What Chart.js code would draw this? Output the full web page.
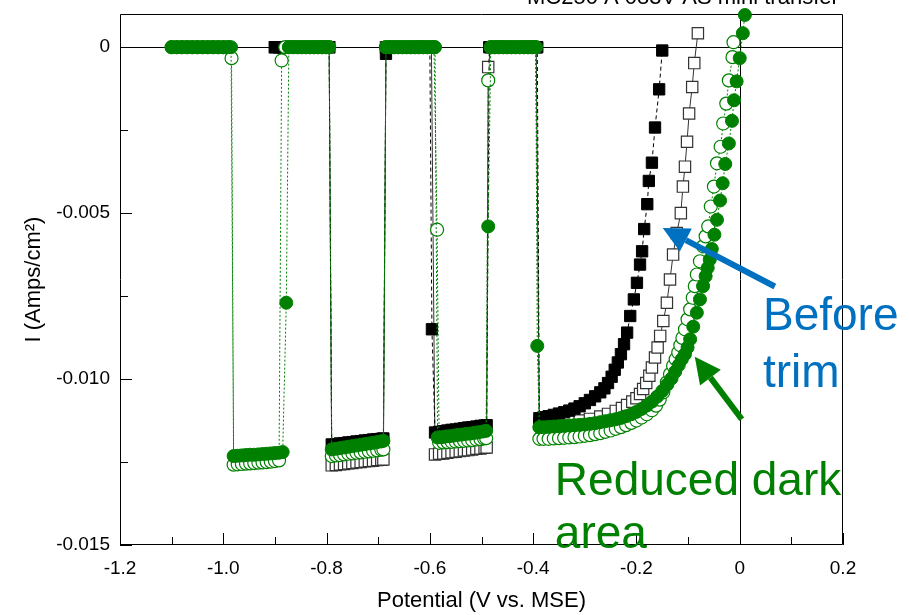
<!DOCTYPE html>
<html>
<head>
<meta charset="utf-8">
<title>Chopped light LSV</title>
<script src="https://cdn.jsdelivr.net/npm/chart.js@4.4.1/dist/chart.umd.min.js"></script>
<style>
  html, body { margin: 0; padding: 0; background: #fff; }
  #wrap { width: 909px; height: 615px; }
</style>
</head>
<body>
<div id="wrap"><canvas id="lsv" width="909" height="615"></canvas></div>
<script>
// ---- data: [potential V vs MSE, current A/cm2] ----
const greenFilled = [
  [-1.100,0],[-1.090,0],[-1.080,0],[-1.070,0],[-1.060,0],[-1.050,0],[-1.040,0],[-1.030,0],[-1.020,0],[-1.010,0],[-1.000,0],[-0.992,0],[-0.985,0],
  [-0.980,-0.01232],[-0.972,-0.01231],[-0.964,-0.01230],[-0.956,-0.01229],[-0.948,-0.01228],[-0.940,-0.01228],[-0.932,-0.01227],[-0.924,-0.01226],[-0.916,-0.01225],[-0.908,-0.01224],[-0.900,-0.01223],[-0.892,-0.01222],[-0.885,-0.01220],
  [-0.878,-0.0077],
  [-0.873,0],[-0.865,0],[-0.857,0],[-0.849,0],[-0.841,0],[-0.833,0],[-0.825,0],[-0.817,0],[-0.809,0],[-0.801,0],[-0.795,0],
  [-0.790,-0.01212],[-0.782,-0.01210],[-0.774,-0.01208],[-0.766,-0.01206],[-0.758,-0.01204],[-0.750,-0.01202],[-0.742,-0.01200],[-0.734,-0.01198],[-0.726,-0.01196],[-0.718,-0.01194],[-0.710,-0.01192],[-0.702,-0.01190],[-0.694,-0.01188],[-0.690,-0.01186],
  [-0.685,0],[-0.677,0],[-0.669,0],[-0.661,0],[-0.653,0],[-0.645,0],[-0.637,0],[-0.629,0],[-0.621,0],[-0.613,0],[-0.605,0],[-0.597,0],[-0.590,0],
  [-0.585,-0.01176],[-0.577,-0.01175],[-0.569,-0.01173],[-0.561,-0.01172],[-0.553,-0.01170],[-0.545,-0.01168],[-0.537,-0.01167],[-0.529,-0.01165],[-0.521,-0.01164],[-0.513,-0.01162],[-0.505,-0.01160],[-0.497,-0.01158],[-0.491,-0.01156],
  [-0.487,-0.0054],
  [-0.482,0],[-0.474,0],[-0.466,0],[-0.458,0],[-0.450,0],[-0.442,0],[-0.434,0],[-0.426,0],[-0.418,0],[-0.410,0],[-0.402,0],[-0.395,0],
  [-0.392,-0.0090],
  [-0.388,-0.01145],[-0.380,-0.01145],[-0.370,-0.01144],[-0.360,-0.01143],[-0.350,-0.01142],[-0.340,-0.01141],[-0.330,-0.01140],[-0.320,-0.01139],[-0.310,-0.01138],[-0.300,-0.01137],
  [-0.290,-0.01135],[-0.280,-0.01133],[-0.270,-0.01130],[-0.260,-0.01127],[-0.250,-0.01124],[-0.240,-0.01121],[-0.230,-0.01117],[-0.220,-0.01112],[-0.210,-0.01106],[-0.200,-0.01099],
  [-0.190,-0.01090],[-0.180,-0.01080],[-0.170,-0.01068],[-0.160,-0.01053],[-0.150,-0.01036],[-0.140,-0.01016],[-0.132,-0.00998],[-0.125,-0.00978],[-0.118,-0.00958],[-0.112,-0.00940],
  [-0.106,-0.00925],[-0.101,-0.00905],[-0.096,-0.00880],[-0.090,-0.00842],[-0.083,-0.00800],[-0.077,-0.00760],[-0.071,-0.00720],[-0.066,-0.00690],[-0.062,-0.00665],[-0.058,-0.00640],
  [-0.054,-0.00608],[-0.049,-0.00565],[-0.044,-0.00520],[-0.038,-0.00462],[-0.033,-0.00410],[-0.028,-0.00352],[-0.021,-0.00290],[-0.015,-0.00222],[-0.011,-0.00160],[-0.006,-0.00103],
  [0.000,-0.00033],[0.006,0.00042],[0.010,0.00097]
];

const greenOpen = [
  [-1.100,0],[-1.090,0],[-1.080,0],[-1.070,0],[-1.060,0],[-1.050,0],[-1.040,0],[-1.030,0],[-1.020,0],[-1.010,0],[-1.000,0],[-0.990,0],
  [-0.984,-0.00033],
  [-0.980,-0.01258],[-0.972,-0.01257],[-0.964,-0.01256],[-0.956,-0.01255],[-0.948,-0.01254],[-0.940,-0.01253],[-0.932,-0.01252],[-0.924,-0.01251],[-0.916,-0.01250],[-0.908,-0.01249],[-0.900,-0.01247],[-0.892,-0.01245],
  [-0.887,-0.0004],
  [-0.880,0],[-0.872,0],[-0.864,0],[-0.856,0],[-0.848,0],[-0.840,0],[-0.832,0],[-0.824,0],[-0.816,0],[-0.808,0],[-0.800,0],[-0.795,0],
  [-0.790,-0.01232],[-0.782,-0.01230],[-0.774,-0.01229],[-0.766,-0.01227],[-0.758,-0.01225],[-0.750,-0.01224],[-0.742,-0.01222],[-0.734,-0.01221],[-0.726,-0.01219],[-0.718,-0.01218],[-0.710,-0.01216],[-0.702,-0.01215],[-0.694,-0.01213],[-0.690,-0.01212],
  [-0.685,0],[-0.677,0],[-0.669,0],[-0.661,0],[-0.653,0],[-0.645,0],[-0.637,0],[-0.629,0],[-0.621,0],[-0.613,0],[-0.605,0],[-0.597,0],[-0.592,0],
  [-0.586,-0.0055],
  [-0.582,-0.01192],[-0.574,-0.01191],[-0.566,-0.01190],[-0.558,-0.01189],[-0.550,-0.01188],[-0.542,-0.01187],[-0.534,-0.01186],[-0.526,-0.01185],[-0.518,-0.01184],[-0.510,-0.01182],[-0.502,-0.01181],[-0.495,-0.01179],[-0.491,-0.01178],
  [-0.487,-0.0010],
  [-0.482,0],[-0.474,0],[-0.466,0],[-0.458,0],[-0.450,0],[-0.442,0],[-0.434,0],[-0.426,0],[-0.418,0],[-0.410,0],[-0.402,0],[-0.395,0],
  [-0.388,-0.01180],[-0.380,-0.01180],[-0.370,-0.01180],[-0.360,-0.01179],[-0.350,-0.01178],[-0.340,-0.01177],[-0.330,-0.01176],[-0.320,-0.01175],[-0.310,-0.01173],[-0.300,-0.01171],
  [-0.290,-0.01169],[-0.280,-0.01166],[-0.270,-0.01163],[-0.260,-0.01159],[-0.250,-0.01155],[-0.240,-0.01150],[-0.230,-0.01145],[-0.220,-0.01139],[-0.210,-0.01132],[-0.200,-0.01125],
  [-0.190,-0.01116],[-0.180,-0.01106],[-0.170,-0.01094],[-0.162,-0.01080],[-0.155,-0.01062],[-0.148,-0.01040],[-0.141,-0.01010],[-0.135,-0.00985],[-0.129,-0.00960],[-0.124,-0.00940],
  [-0.119,-0.00920],[-0.115,-0.00898],[-0.111,-0.00876],[-0.106,-0.00850],[-0.101,-0.00820],[-0.096,-0.00790],[-0.091,-0.00755],[-0.087,-0.00720],[-0.083,-0.00685],[-0.077,-0.00645],
  [-0.071,-0.00600],[-0.066,-0.00570],[-0.061,-0.00540],[-0.056,-0.00480],[-0.050,-0.00420],[-0.044,-0.00350],[-0.037,-0.00300],[-0.032,-0.00230],[-0.026,-0.00170],[-0.021,-0.00100],
  [-0.014,-0.00030],[-0.012,0.00015]
];

const blackFilled = [
  [-0.900,0],[-0.892,0],[-0.884,0],[-0.876,0],[-0.868,0],[-0.860,0],[-0.852,0],[-0.844,0],[-0.836,0],[-0.828,0],[-0.820,0],[-0.812,0],[-0.804,0],[-0.795,0],
  [-0.790,-0.01197],[-0.782,-0.01196],[-0.774,-0.01194],[-0.766,-0.01193],[-0.758,-0.01191],[-0.750,-0.01190],[-0.742,-0.01188],[-0.734,-0.01187],[-0.726,-0.01185],[-0.718,-0.01184],[-0.710,-0.01182],[-0.702,-0.01181],[-0.694,-0.01180],[-0.690,-0.01179],
  [-0.685,-0.0002],
  [-0.680,0],[-0.672,0],[-0.664,0],[-0.656,0],[-0.648,0],[-0.640,0],[-0.632,0],[-0.624,0],[-0.616,0],[-0.608,0],[-0.600,0],
  [-0.596,-0.0085],
  [-0.590,-0.01161],[-0.582,-0.01159],[-0.574,-0.01157],[-0.566,-0.01155],[-0.558,-0.01153],[-0.550,-0.01152],[-0.542,-0.01150],[-0.534,-0.01148],[-0.526,-0.01146],[-0.518,-0.01145],[-0.510,-0.01143],[-0.502,-0.01141],[-0.494,-0.01140],[-0.490,-0.01139],
  [-0.485,0],[-0.477,0],[-0.469,0],[-0.461,0],[-0.453,0],[-0.445,0],[-0.437,0],[-0.429,0],[-0.421,0],[-0.413,0],[-0.405,0],[-0.397,0],[-0.392,0],
  [-0.388,-0.01118],[-0.380,-0.01115],[-0.370,-0.01112],[-0.360,-0.01108],[-0.350,-0.01104],[-0.340,-0.01100],[-0.330,-0.01095],[-0.320,-0.01089],[-0.310,-0.01082],[-0.300,-0.01073],
  [-0.290,-0.01063],[-0.280,-0.01052],[-0.270,-0.01040],[-0.262,-0.01028],[-0.255,-0.01012],[-0.248,-0.00993],[-0.242,-0.00972],[-0.236,-0.00950],[-0.230,-0.00925],[-0.224,-0.00895],
  [-0.218,-0.00860],[-0.212,-0.00810],[-0.205,-0.00760],[-0.199,-0.00710],[-0.193,-0.00655],[-0.189,-0.00615],[-0.185,-0.00548],[-0.179,-0.00473],[-0.176,-0.00403],[-0.170,-0.00348],
  [-0.164,-0.00242],[-0.156,-0.00127],[-0.150,-0.00010]
];

const blackOpen = [
  [-0.900,0],[-0.892,0],[-0.884,0],[-0.876,0],[-0.868,0],[-0.860,0],[-0.852,0],[-0.844,0],[-0.836,0],[-0.828,0],[-0.820,0],[-0.812,0],[-0.804,0],[-0.795,0],
  [-0.790,-0.01260],[-0.782,-0.01259],[-0.774,-0.01257],[-0.766,-0.01256],[-0.758,-0.01254],[-0.750,-0.01253],[-0.742,-0.01251],[-0.734,-0.01250],[-0.726,-0.01248],[-0.718,-0.01247],[-0.710,-0.01246],[-0.702,-0.01244],[-0.694,-0.01243],[-0.690,-0.01242],
  [-0.685,0],[-0.677,0],[-0.669,0],[-0.661,0],[-0.653,0],[-0.645,0],[-0.637,0],[-0.629,0],[-0.621,0],[-0.613,0],[-0.605,0],[-0.597,0],
  [-0.590,-0.01227],[-0.582,-0.01225],[-0.574,-0.01224],[-0.566,-0.01222],[-0.558,-0.01220],[-0.550,-0.01219],[-0.542,-0.01217],[-0.534,-0.01215],[-0.526,-0.01214],[-0.518,-0.01212],[-0.510,-0.01210],[-0.502,-0.01209],[-0.494,-0.01207],[-0.490,-0.01206],
  [-0.487,-0.0006],
  [-0.482,0],[-0.474,0],[-0.466,0],[-0.458,0],[-0.450,0],[-0.442,0],[-0.434,0],[-0.426,0],[-0.418,0],[-0.410,0],[-0.402,0],[-0.394,0],
  [-0.388,-0.01135],[-0.370,-0.01133],[-0.350,-0.01131],[-0.330,-0.01128],[-0.310,-0.01125],[-0.290,-0.01120],[-0.270,-0.01113],[-0.255,-0.01105],[-0.240,-0.01096],[-0.228,-0.01087],
  [-0.218,-0.01078],[-0.208,-0.01068],[-0.200,-0.01058],[-0.193,-0.01045],[-0.187,-0.01030],[-0.181,-0.01012],[-0.175,-0.00990],[-0.170,-0.00965],[-0.164,-0.00935],[-0.159,-0.00905],
  [-0.154,-0.00870],[-0.148,-0.00825],[-0.141,-0.00770],[-0.135,-0.00700],[-0.129,-0.00625],[-0.122,-0.00560],[-0.114,-0.00500],[-0.110,-0.00420],[-0.106,-0.00360],[-0.102,-0.00285],
  [-0.098,-0.00200],[-0.092,-0.00120],[-0.088,-0.00048],[-0.081,0.00042]
];

const xTicks = [-1.2, -1.0, -0.8, -0.6, -0.4, -0.2, 0, 0.2];
const xTickLabels = ['-1.2', '-1.0', '-0.8', '-0.6', '-0.4', '-0.2', '0', '0.2'];
const xMinor = [-1.1, -0.9, -0.7, -0.5, -0.3, -0.1, 0.1];
const yTicks = [-0.015, -0.010, -0.005, 0];
const yTickLabels = ['-0.015', '-0.010', '-0.005', '0'];
const yMinor = [-0.0125, -0.0075, -0.0025];

// annotation text / arrows, placed in data units
const notes = {
  blue: '#0070C0',
  green: '#008000',
  before: ['Before', 'trim'],
  reduced: ['Reduced dark', 'area'],
  blueArrow: { from: [0.068, -0.00721], to: [-0.149, -0.00545] },
  greenArrow: { from: [0.004, -0.01121], to: [-0.087, -0.00933] },
  beforeAt: [0.045, -0.00852, -0.01024],
  reducedAt: [-0.358, -0.01348, -0.01509]
};
const topCaption = 'MC250 A 083V AS mini transfer';

const FONT = "'Liberation Sans', Arial, sans-serif";
const NARROW = "'Liberation Sans Narrow', 'Arial Narrow', 'Liberation Sans', sans-serif";
const toXY = rows => rows.map(r => ({ x: r[0], y: r[1] }));

function drawArrow(ctx, x1, y1, x2, y2, color, w, headLen, headW) {
  const ang = Math.atan2(y2 - y1, x2 - x1);
  const bx = x2 - Math.cos(ang) * headLen;
  const by = y2 - Math.sin(ang) * headLen;
  ctx.save();
  ctx.strokeStyle = color;
  ctx.fillStyle = color;
  ctx.lineWidth = w;
  ctx.beginPath();
  ctx.moveTo(x1, y1);
  ctx.lineTo(bx, by);
  ctx.stroke();
  ctx.beginPath();
  ctx.moveTo(x2, y2);
  ctx.lineTo(bx + Math.sin(ang) * headW / 2, by - Math.cos(ang) * headW / 2);
  ctx.lineTo(bx - Math.sin(ang) * headW / 2, by + Math.cos(ang) * headW / 2);
  ctx.closePath();
  ctx.fill();
  ctx.restore();
}

const frameAndNotes = {
  id: 'frameAndNotes',
  beforeDatasetsDraw(chart) {
    const { ctx, chartArea: a, scales: { x, y } } = chart;
    ctx.save();
    ctx.strokeStyle = '#000';
    ctx.lineWidth = 1;
    ctx.beginPath();
    ctx.rect(a.left + 0.5, a.top + 0.5, a.right - a.left - 1, a.bottom - a.top - 1);
    const y0 = Math.round(y.getPixelForValue(0)) + 0.5;
    const x0 = Math.round(x.getPixelForValue(0)) + 0.5;
    ctx.moveTo(a.left, y0); ctx.lineTo(a.right, y0);
    ctx.moveTo(x0, a.top); ctx.lineTo(x0, a.bottom);
    // inward ticks
    xTicks.forEach(v => { const p = Math.round(x.getPixelForValue(v)) + 0.5; ctx.moveTo(p, a.bottom); ctx.lineTo(p, a.bottom - 12); });
    xMinor.forEach(v => { const p = Math.round(x.getPixelForValue(v)) + 0.5; ctx.moveTo(p, a.bottom); ctx.lineTo(p, a.bottom - 8); });
    yTicks.forEach(v => { const p = Math.round(y.getPixelForValue(v)) + 0.5; ctx.moveTo(a.left, p); ctx.lineTo(a.left + 12, p); });
    yMinor.forEach(v => { const p = Math.round(y.getPixelForValue(v)) + 0.5; ctx.moveTo(a.left, p); ctx.lineTo(a.left + 8, p); });
    ctx.stroke();
    // clipped caption at the very top
    ctx.fillStyle = '#000';
    ctx.font = '22px ' + FONT;
    ctx.textBaseline = 'alphabetic';
    ctx.fillText(topCaption, 527, 4);
    ctx.restore();
  },
  afterDraw(chart) {
    const { ctx, scales: { x, y } } = chart;
    const px = v => x.getPixelForValue(v);
    const py = v => y.getPixelForValue(v);
    const b = notes.blueArrow, g = notes.greenArrow;
    drawArrow(ctx, px(b.from[0]), py(b.from[1]), px(b.to[0]), py(b.to[1]), notes.blue, 6, 26, 26);
    drawArrow(ctx, px(g.from[0]), py(g.from[1]), px(g.to[0]), py(g.to[1]), notes.green, 6, 26, 26);
    ctx.save();
    ctx.font = '46px ' + FONT;
    ctx.textBaseline = 'alphabetic';
    ctx.textAlign = 'left';
    ctx.fillStyle = notes.blue;
    ctx.fillText(notes.before[0], px(notes.beforeAt[0]), py(notes.beforeAt[1]));
    ctx.fillText(notes.before[1], px(notes.beforeAt[0]), py(notes.beforeAt[2]));
    ctx.fillStyle = notes.green;
    ctx.fillText(notes.reduced[0], px(notes.reducedAt[0]), py(notes.reducedAt[1]));
    ctx.fillText(notes.reduced[1], px(notes.reducedAt[0]), py(notes.reducedAt[2]));
    ctx.restore();
  }
};

// first dataset is painted last (on top)
const series = [
  { data: greenFilled, style: 'circle', r: 6.5, fill: '#008000', edge: '#008000', ew: 1, line: '#008000', dash: [2, 2] },
  { data: greenOpen, style: 'circle', r: 6.5, fill: '#ffffff', edge: '#008000', ew: 1.2, line: '#008000', dash: [2, 2] },
  { data: blackFilled, style: 'rect', r: 8, fill: '#000000', edge: '#000000', ew: 1, line: '#000000', dash: [4, 3] },
  { data: blackOpen, style: 'rect', r: 8, fill: '#ffffff', edge: '#333333', ew: 1.2, line: '#333333', dash: [] }
];

new Chart(document.getElementById('lsv'), {
  type: 'line',
  data: {
    datasets: series.map(s => ({
      data: toXY(s.data),
      borderColor: s.line,
      borderWidth: 1,
      borderDash: s.dash,
      pointStyle: s.style,
      pointRadius: s.r,
      pointBackgroundColor: s.fill,
      pointBorderColor: s.edge,
      pointBorderWidth: s.ew,
      tension: 0,
      fill: false,
      clip: false
    }))
  },
  options: {
    responsive: false,
    animation: false,
    devicePixelRatio: 1,
    layout: { padding: { left: 0, top: 14, right: 66, bottom: 0 } },
    plugins: { legend: { display: false }, tooltip: { enabled: false } },
    scales: {
      x: {
        type: 'linear',
        min: -1.2,
        max: 0.2,
        grid: { display: false, drawTicks: false },
        border: { display: false },
        afterBuildTicks: s => { s.ticks = xTicks.map(v => ({ value: v })); },
        afterFit: s => { s.height = 70; s.paddingLeft = 0; s.paddingRight = 0; },
        ticks: {
          autoSkip: false,
          maxRotation: 0,
          padding: 12,
          color: '#000',
          font: { family: NARROW, size: 19 },
          callback: (v, i) => xTickLabels[i]
        },
        title: {
          display: true,
          text: 'Potential (V vs. MSE)',
          color: '#000',
          font: { family: FONT, size: 22 },
          padding: { top: 0, bottom: 1 }
        }
      },
      y: {
        min: -0.015,
        max: 0.001,
        grid: { display: false, drawTicks: false },
        border: { display: false },
        afterBuildTicks: s => { s.ticks = yTicks.map(v => ({ value: v })); },
        afterFit: s => { s.width = 120; s.paddingTop = 0; s.paddingBottom = 0; },
        ticks: {
          autoSkip: false,
          padding: 10,
          color: '#000',
          font: { family: NARROW, size: 19 },
          callback: (v, i) => yTickLabels[i]
        },
        title: {
          display: true,
          text: 'I (Amps/cm²)',
          color: '#000',
          font: { family: FONT, size: 22 },
          padding: { top: 21, bottom: 0 }
        }
      }
    }
  },
  plugins: [frameAndNotes]
});
</script>
</body>
</html>
